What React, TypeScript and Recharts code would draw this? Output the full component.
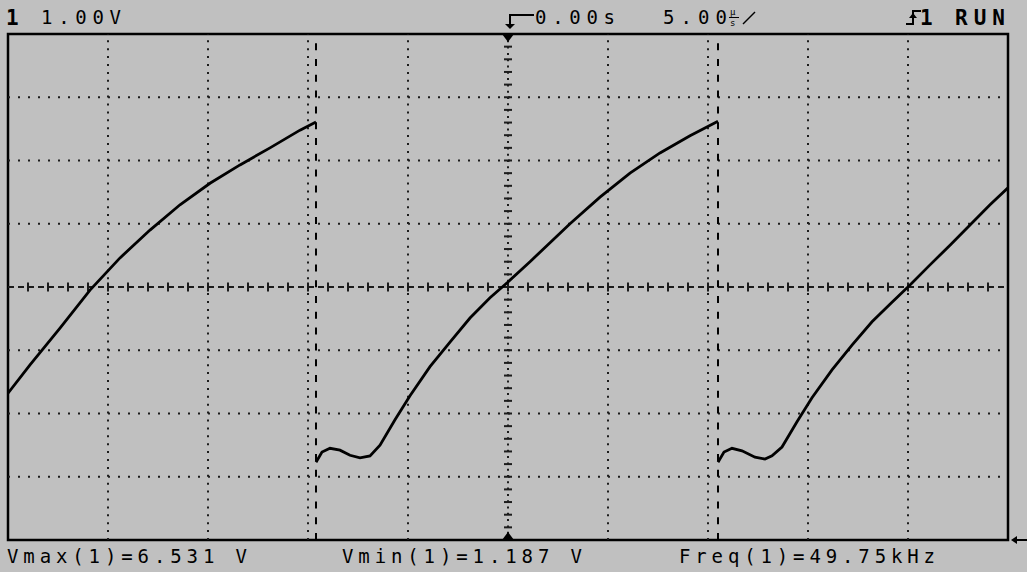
import React from 'react';
import {
  LineChart,
  Line,
  XAxis,
  YAxis,
  ReferenceLine,
  ReferenceArea,
  ReferenceDot,
} from 'recharts';

// trace: time in µs (0 = trigger), volts
// null marks the instant retrace at each cursor (no visible line there)
const traceTime = [
  -25, -23.9, -22.4, -20.9, -19.4, -17.9, -16.4, -14.9, -13.4, -11.9, -10.4, -9.6,
  -9.6,
  -9.6, -9.3, -8.9, -8.4, -7.9, -7.4, -6.9, -6.4, -5.65, -4.9, -3.9, -2.9, -1.9, -0.9,
  0, 1.1, 2.1, 3.1, 4.6, 6.1, 7.6, 9.1, 10.5,
  10.5,
  10.5, 10.8, 11.2, 11.7, 12.35, 12.85, 13.2, 13.7, 14.45, 15.2, 16.2, 17.2, 18.2, 19.2,
  20.1, 21.1, 22.1, 23.1, 24.1, 25,
];
const traceVolts: (number | null)[] = [
  2.32, 2.77, 3.35, 3.95, 4.46, 4.9, 5.3, 5.64, 5.93, 6.2, 6.48, 6.61,
  null,
  1.23, 1.39, 1.45, 1.42, 1.34, 1.3, 1.33, 1.5, 1.9, 2.28, 2.74, 3.13, 3.51, 3.83,
  4.08, 4.4, 4.7, 5.0, 5.42, 5.8, 6.12, 6.39, 6.62,
  null,
  1.23, 1.39, 1.45, 1.41, 1.31, 1.28, 1.33, 1.47, 1.87, 2.25, 2.69, 3.08, 3.45, 3.76,
  4.03, 4.35, 4.66, 4.98, 5.3, 5.57,
];

const gridTimes = [-20, -15, -10, -5, 5, 10, 15, 20];
const gridVolts = [1, 2, 3, 5, 6, 7];
const cursorTimes = [-9.6, 10.5];
const minorTimes = Array.from({ length: 49 }, (_, i) => i - 24);
const minorVolts = Array.from({ length: 39 }, (_, i) => 0.2 * (i + 1));

const CENTER_T = 0;
const CENTER_V = 4;

const BG = '#c0c0c0';
const INK = '#000000';
const DOT = '#1c1c1c';
const MONO = '"DejaVu Sans Mono", "Liberation Mono", monospace';

const data = traceTime.map((t, i) => ({ t, v: traceVolts[i] }));

const TopMarker = ({ cx, cy }: any) => (
  <polygon points={`${cx - 6},${cy} ${cx + 6},${cy} ${cx},${cy + 8}`} fill={INK} />
);
const BottomMarker = ({ cx, cy }: any) => (
  <polygon points={`${cx - 6},${cy} ${cx + 6},${cy} ${cx},${cy - 8}`} fill={INK} />
);
const GroundMarker = ({ cx, cy }: any) => (
  <g>
    <polygon points={`${cx + 3},${cy} ${cx + 9},${cy - 4} ${cx + 9},${cy + 4}`} fill={INK} />
    <line x1={cx + 9} y1={cy} x2={cx + 19} y2={cy} stroke={INK} strokeWidth={2} />
  </g>
);

function Overlay() {
  const txt = { fontFamily: MONO, fontSize: 19, fill: INK } as const;
  const bold = { fontFamily: MONO, fontSize: 21, fontWeight: 700, fill: INK } as const;
  return (
    <svg
      width={1027}
      height={572}
      style={{ position: 'absolute', left: 0, top: 0, pointerEvents: 'none' }}
    >
      {/* header */}
      <text x={6} y={25} {...bold}>1</text>
      <text x={41} y={24} textLength={80} lengthAdjust="spacing" {...txt}>1.00V</text>

      <path d="M534,15 H510 V25" stroke={INK} strokeWidth={2} fill="none" />
      <polygon points="505,24 515,24 510,29" fill={INK} />
      <text x={535} y={24} textLength={80} lengthAdjust="spacing" {...txt}>0.00s</text>

      <text x={663} y={24} textLength={64} lengthAdjust="spacing" {...txt}>5.00</text>
      <text x={730} y={15} style={{ fontFamily: MONO, fontSize: 9 }} fill={INK}>µ</text>
      <text x={730} y={26} style={{ fontFamily: MONO, fontSize: 9 }} fill={INK}>s</text>
      <line x1={729} y1={17.5} x2={739} y2={17.5} stroke={INK} strokeWidth={1} />
      <line x1={743} y1={24} x2={755} y2={12} stroke={INK} strokeWidth={1.5} />

      <path d="M906,24 H913 V11 H921" stroke={INK} strokeWidth={2} fill="none" />
      <polygon points="909,18 917,18 913,13" fill={INK} />
      <text x={920} y={25} {...bold}>1</text>
      <text x={955} y={25} textLength={50} lengthAdjust="spacing" {...bold}>RUN</text>

      {/* measurements */}
      <text x={7} y={563} textLength={240} lengthAdjust="spacing" {...txt}>Vmax(1)=6.531 V</text>
      <text x={342} y={563} textLength={240} lengthAdjust="spacing" {...txt}>Vmin(1)=1.187 V</text>
      <text x={679} y={563} textLength={256} lengthAdjust="spacing" {...txt}>Freq(1)=49.75kHz</text>
    </svg>
  );
}

export default function App() {
  return (
    <div
      style={{
        position: 'absolute',
        left: 0,
        top: 0,
        width: 1027,
        height: 572,
        background: BG,
        overflow: 'hidden',
      }}
    >
      <LineChart
        width={1027}
        height={572}
        data={data}
        margin={{ top: 34, right: 19, left: 8, bottom: 32 }}
      >
        <XAxis dataKey="t" type="number" domain={[-25, 25]} hide allowDataOverflow />
        <YAxis type="number" domain={[0, 8]} hide allowDataOverflow />

        {/* dotted graticule */}
        {gridTimes.map((t) => (
          <ReferenceLine
            key={`gx${t}`}
            x={t}
            stroke={DOT}
            strokeWidth={2}
            strokeDasharray="2 5.9"
          />
        ))}
        {gridVolts.map((v) => (
          <ReferenceLine
            key={`gy${v}`}
            y={v}
            stroke={DOT}
            strokeWidth={2}
            strokeDasharray="2 8"
          />
        ))}

        {/* centre axes with minor ticks */}
        <ReferenceLine y={CENTER_V} stroke={DOT} strokeWidth={2} strokeDasharray="6 4" />
        <ReferenceLine x={CENTER_T} stroke={DOT} strokeWidth={2} strokeDasharray="2 4.3" />
        {minorTimes.map((t) => (
          <ReferenceLine
            key={`mt${t}`}
            segment={[
              { x: t, y: CENTER_V - 0.07 },
              { x: t, y: CENTER_V + 0.07 },
            ]}
            stroke={DOT}
            strokeWidth={2}
          />
        ))}
        {minorVolts.map((v) => (
          <ReferenceLine
            key={`mv${v}`}
            segment={[
              { x: CENTER_T - 0.2, y: v },
              { x: CENTER_T + 0.2, y: v },
            ]}
            stroke={DOT}
            strokeWidth={2}
          />
        ))}

        {/* measurement cursors */}
        {cursorTimes.map((t) => (
          <ReferenceLine
            key={`c${t}`}
            x={t}
            stroke={INK}
            strokeWidth={2}
            strokeDasharray="7 8.8"
          />
        ))}

        <ReferenceArea
          x1={-25}
          x2={25}
          y1={0}
          y2={8}
          fill="none"
          stroke={INK}
          strokeWidth={2.5}
          ifOverflow="visible"
        />

        <ReferenceDot x={0} y={8} r={6} shape={TopMarker} ifOverflow="visible" />
        <ReferenceDot x={0} y={0} r={6} shape={BottomMarker} ifOverflow="visible" />
        <ReferenceDot x={25} y={0} r={6} shape={GroundMarker} ifOverflow="visible" />

        <Line
          type="linear"
          dataKey="v"
          stroke={INK}
          strokeWidth={2.8}
          dot={false}
          connectNulls={false}
          isAnimationActive={false}
        />
      </LineChart>
      <Overlay />
    </div>
  );
}
